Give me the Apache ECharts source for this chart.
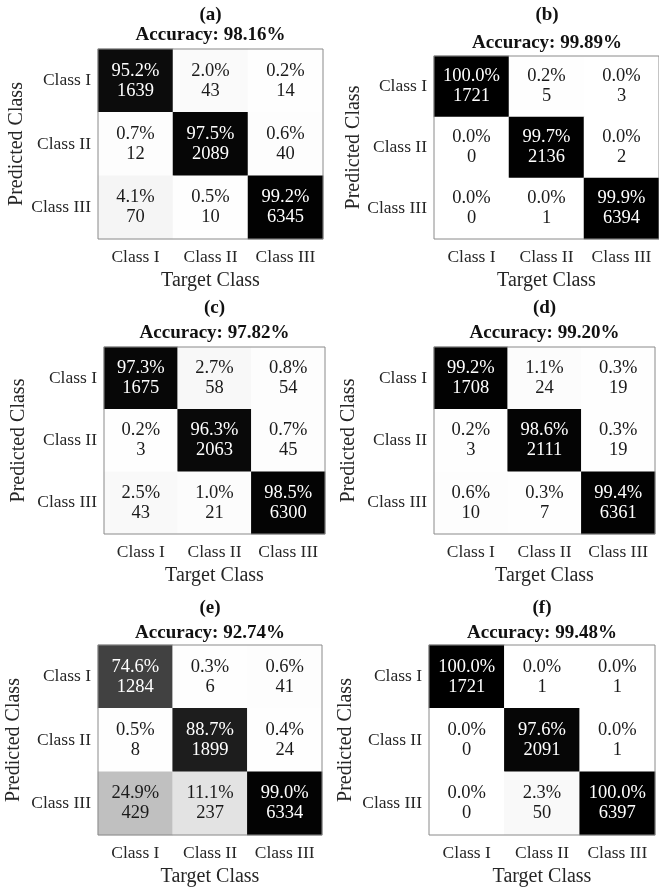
<!DOCTYPE html>
<html>
<head>
<meta charset="utf-8">
<script src="https://cdn.jsdelivr.net/npm/echarts@6/dist/echarts.min.js"></script>
<style>
  html, body { margin: 0; padding: 0; background: #ffffff; }
  #chart { width: 659px; height: 890px; }
</style>
</head>
<body>
<div id="chart"></div>
<script>
// Class names shared by both axes of every confusion matrix
const classNames = ['Class I', 'Class II', 'Class III'];
const panelLetters = ['(a)', '(b)', '(c)', '(d)', '(e)', '(f)'];
const accuracies = ['98.16', '99.89', '97.82', '99.20', '92.74', '99.48'];

// Each matrix: rows = predicted class, columns = target class
const pctA = [[95.2, 2.0, 0.2], [0.7, 97.5, 0.6], [4.1, 0.5, 99.2]];
const cntA = [[1639, 43, 14], [12, 2089, 40], [70, 10, 6345]];

const pctB = [[100.0, 0.2, 0.0], [0.0, 99.7, 0.0], [0.0, 0.0, 99.9]];
const cntB = [[1721, 5, 3], [0, 2136, 2], [0, 1, 6394]];

const pctC = [[97.3, 2.7, 0.8], [0.2, 96.3, 0.7], [2.5, 1.0, 98.5]];
const cntC = [[1675, 58, 54], [3, 2063, 45], [43, 21, 6300]];

const pctD = [[99.2, 1.1, 0.3], [0.2, 98.6, 0.3], [0.6, 0.3, 99.4]];
const cntD = [[1708, 24, 19], [3, 2111, 19], [10, 7, 6361]];

const pctE = [[74.6, 0.3, 0.6], [0.5, 88.7, 0.4], [24.9, 11.1, 99.0]];
const cntE = [[1284, 6, 41], [8, 1899, 24], [429, 237, 6334]];

const pctF = [[100.0, 0.0, 0.0], [0.0, 97.6, 0.0], [0.0, 2.3, 100.0]];
const cntF = [[1721, 1, 1], [0, 2091, 1], [0, 50, 6397]];

const panelPercents = [pctA, pctB, pctC, pctD, pctE, pctF];
const panelCounts = [cntA, cntB, cntC, cntD, cntE, cntF];

// Layout: plot boxes [left, top, width, height], title centres, axis-name gaps
const gridBoxes = [
  [98, 49, 225, 190], [434, 56, 226, 183],
  [104, 347, 221, 187], [434, 347, 221, 187],
  [98, 645, 224, 190], [429, 645, 226, 190]
];
const letterY = [15, 15, 308, 308, 608, 608];
const accuracyY = [35, 43, 333, 333, 633, 633];
const yNameGaps = [71, 68, 75, 75, 74, 73];
const xNameGap = 32;

const serif = '"Liberation Serif", "Times New Roman", serif';
const inkColor = '#262626';

const chart = echarts.init(document.getElementById('chart'), null, { renderer: 'canvas' });

const grids = [], xAxes = [], yAxes = [], series = [], titles = [];

gridBoxes.forEach((b, i) => {
  const [left, top, width, height] = b;
  const cx = left + width / 2;

  grids.push({
    left, top, width, height,
    show: true, borderColor: '#8a8a8a', borderWidth: 1,
    backgroundColor: 'transparent', z: 5
  });

  xAxes.push({
    type: 'category', gridIndex: i, data: classNames, position: 'bottom',
    axisLine: { show: false }, axisTick: { show: false }, splitLine: { show: false },
    axisLabel: { interval: 0, fontFamily: serif, fontSize: 17.5, color: inkColor, margin: 9 },
    name: 'Target Class', nameLocation: 'middle', nameGap: xNameGap,
    nameTextStyle: { fontFamily: serif, fontSize: 20, color: inkColor }
  });

  yAxes.push({
    type: 'category', gridIndex: i, data: classNames, inverse: true,
    axisLine: { show: false }, axisTick: { show: false }, splitLine: { show: false },
    axisLabel: { interval: 0, fontFamily: serif, fontSize: 17.5, color: inkColor, margin: 7 },
    name: 'Predicted Class', nameLocation: 'middle', nameGap: yNameGaps[i],
    nameTextStyle: { fontFamily: serif, fontSize: 20, color: inkColor }
  });

  const pct = panelPercents[i];
  const cnt = panelCounts[i];
  const data = [];
  for (let r = 0; r < 3; r++) {
    for (let c = 0; c < 3; c++) {
      data.push([c, r, pct[r][c], cnt[r][c]]);
    }
  }

  series.push({
    type: 'heatmap', xAxisIndex: i, yAxisIndex: i, data,
    emphasis: { disabled: true },
    label: {
      show: true,
      formatter: p => {
        const style = p.data[2] >= 50 ? 'w' : 'k';
        return '{' + style + '|' + p.data[2].toFixed(1) + '%}\n{' + style + '|' + p.data[3] + '}';
      },
      rich: {
        w: { color: '#ffffff', fontFamily: serif, fontSize: 18.5, lineHeight: 20 },
        k: { color: '#1a1a1a', fontFamily: serif, fontSize: 18.5, lineHeight: 20 }
      }
    }
  });

  titles.push({
    text: panelLetters[i], left: cx, top: letterY[i], padding: 0,
    textAlign: 'center', textVerticalAlign: 'middle',
    textStyle: { fontFamily: serif, fontSize: 19, fontWeight: 'bold', color: '#111' }
  });
  titles.push({
    text: 'Accuracy: ' + accuracies[i] + '%', left: cx, top: accuracyY[i], padding: 0,
    textAlign: 'center', textVerticalAlign: 'middle',
    textStyle: { fontFamily: serif, fontSize: 19, fontWeight: 'bold', color: '#111' }
  });
});

chart.setOption({
  backgroundColor: '#ffffff',
  animation: false,
  title: titles,
  grid: grids,
  xAxis: xAxes,
  yAxis: yAxes,
  visualMap: {
    type: 'continuous', show: false, min: 0, max: 100, dimension: 2,
    seriesIndex: series.map((s, i) => i),
    inRange: { color: ['#ffffff', '#000000'] }
  },
  series
});
</script>
</body>
</html>
